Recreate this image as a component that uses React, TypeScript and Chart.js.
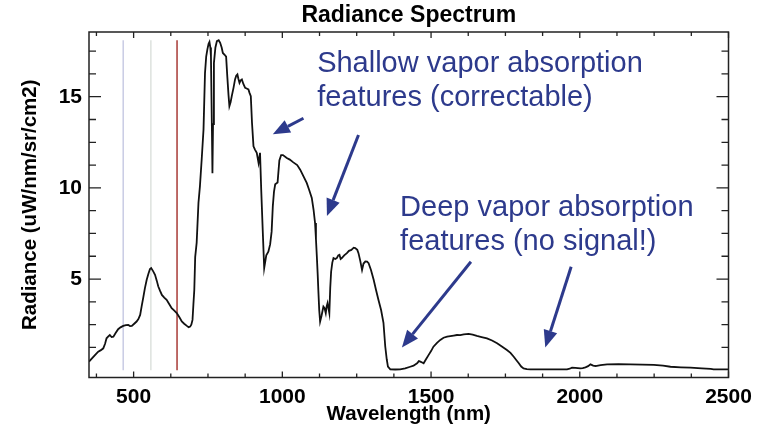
import React, { useEffect, useRef } from "react";
import { Chart, registerables } from "chart.js";

Chart.register(...registerables);

// ---- Data ----
const wavelengths = [
  350, 360, 370, 381, 390, 398, 404, 409, 415, 420, 426, 432, 440, 448, 456, 465, 474, 482, 488, 494,
  502, 510, 516, 522, 527, 533, 538, 544, 550, 555, 559, 565, 572, 578, 583, 589, 595, 603, 611, 620,
  628, 636, 645, 654, 662, 670, 679, 685, 690, 694, 698, 701, 704, 707, 712, 718, 723, 729, 735, 740,
  744, 748, 752, 755, 758, 760, 763, 765, 767, 770, 775, 780, 786, 791, 796, 800, 806, 811, 815, 819,
  822, 826, 830, 836, 841, 845, 849, 852, 856, 860, 864, 869, 875, 880, 886, 890, 894, 898, 903, 908,
  914, 920, 925, 929, 934, 939, 942, 946, 953, 959, 964, 968, 972, 976, 984, 990, 996, 1002, 1015, 1025,
  1037, 1050, 1060, 1072, 1082, 1090, 1099, 1105, 1110, 1113, 1116, 1119, 1121, 1124, 1127, 1132, 1138, 1142, 1146, 1149,
  1152, 1155, 1158, 1161, 1164, 1168, 1172, 1178, 1183, 1188, 1192, 1196, 1200, 1208, 1217, 1224, 1232, 1240, 1245, 1252,
  1256, 1262, 1268, 1273, 1279, 1285, 1290, 1298, 1307, 1315, 1323, 1332, 1340, 1346, 1351, 1355, 1363, 1380, 1396, 1413,
  1430, 1441, 1453, 1459, 1464, 1470, 1475, 1483, 1492, 1500, 1508, 1520, 1531, 1542, 1554, 1565, 1576, 1587, 1598, 1610,
  1626, 1640, 1654, 1670, 1688, 1705, 1722, 1738, 1755, 1767, 1778, 1787, 1795, 1803, 1811, 1822, 1834, 1860, 1890, 1920,
  1957, 1966, 1974, 1985, 2002, 2010, 2019, 2028, 2036, 2045, 2053, 2070, 2092, 2130, 2170, 2210, 2249, 2280, 2305, 2340,
  2372, 2410, 2440, 2450, 2484, 2500,
];
const radiance = [
  0.47, 0.65, 0.83, 1.02, 1.1, 1.2, 1.45, 1.75, 1.85, 1.93, 1.82, 1.84, 2.05, 2.25, 2.35, 2.43, 2.47, 2.48, 2.42, 2.43,
  2.55, 2.67, 2.8, 3.03, 3.5, 4.04, 4.5, 4.96, 5.3, 5.55, 5.6, 5.45, 5.23, 4.9, 4.59, 4.35, 4.13, 3.98, 3.86, 3.62,
  3.4, 3.28, 3.13, 2.9, 2.67, 2.55, 2.43, 2.36, 2.39, 2.5, 2.76, 3.6, 4.4, 6.2, 7.0, 9.17, 10.1, 11.6, 13.2, 16.3,
  17.2, 17.6, 17.9, 18.0, 17.7, 17.2, 13.5, 10.8, 13.5, 16.86, 17.7, 18.05, 18.1, 17.96, 17.7, 17.4, 17.3, 17.2, 16.1, 15.1,
  14.48, 14.7, 15.03, 15.5, 15.95, 16.15, 16.22, 16.0, 15.76, 15.9, 15.95, 15.7, 15.49, 15.45, 15.4, 15.2, 15.03, 13.57, 12.28, 12.1,
  11.92, 11.37, 11.92, 9.9, 7.7, 5.6, 5.9, 6.3, 6.5, 6.9, 7.6, 9.0, 9.8, 10.2, 10.3, 11.5, 11.8, 11.8, 11.64, 11.55,
  11.4, 11.25, 11.0, 10.6, 10.27, 9.9, 9.45, 8.8, 8.07, 7.2, 6.24, 5.2, 4.4, 3.3, 2.67, 3.0, 3.49, 3.4, 3.13, 3.5,
  3.68, 3.4, 3.13, 4.5, 5.4, 5.9, 6.15, 6.1, 6.15, 6.3, 6.33, 6.1, 6.15, 6.3, 6.42, 6.55, 6.6, 6.72, 6.7, 6.6,
  6.42, 6.0, 5.5, 5.85, 5.96, 5.95, 5.87, 5.5, 4.96, 4.4, 3.86, 3.3, 2.6, 1.3, 0.6, 0.2, 0.05, 0.04, 0.05, 0.1,
  0.19, 0.25, 0.38, 0.5, 0.47, 0.42, 0.38, 0.6, 0.84, 1.05, 1.29, 1.5, 1.66, 1.78, 1.84, 1.87, 1.9, 1.93, 1.92, 1.97,
  1.99, 1.95, 1.88, 1.82, 1.75, 1.63, 1.48, 1.3, 1.11, 0.95, 0.74, 0.55, 0.38, 0.2, 0.1, 0.06, 0.05, 0.05, 0.05, 0.05,
  0.05, 0.08, 0.14, 0.13, 0.1, 0.12, 0.16, 0.22, 0.32, 0.25, 0.23, 0.28, 0.32, 0.33, 0.32, 0.31, 0.29, 0.25, 0.19, 0.16,
  0.14, 0.1, 0.07, 0.05, 0.05, 0.05,
];

// RGB band marker lines
const bandWavelengths = [465, 558, 646];
const bandColors = ["#c9cbe4", "#dde2de", "#a83a36"];
const bandTop = 18.1;

// Axis ticks
const xTickLabels = [500, 1000, 1500, 2000, 2500];
const yTickLabels = [5, 10, 15];
const xMinorStep = 125;
const yMinorStep = 1.25;

// Annotations (data coordinates)
const annotationLines = [
  { text: "Shallow vapor absorption", x: 1117, y: 16.38 },
  { text: "features (correctable)", x: 1117, y: 14.5 },
  { text: "Deep vapor absorption", x: 1396, y: 8.46 },
  { text: "features (no signal!)", x: 1396, y: 6.59 },
];
const arrows = [
  { x0: 1071, y0: 13.82, x1: 968, y1: 12.94 },
  { x0: 1256, y0: 12.9, x1: 1150, y1: 8.46 },
  { x0: 1634, y0: 5.95, x1: 1402, y1: 1.25 },
  { x0: 1971, y0: 5.67, x1: 1884, y1: 1.25 },
];

const FAMILY = "'Liberation Sans', Arial, Helvetica, sans-serif";
const BLUE = "#2d3a8c";

const framePlugin = {
  id: "idlFrame",
  afterDraw(chart: any) {
    const { ctx, chartArea } = chart;
    const xs = chart.scales.x;
    const ys = chart.scales.y;
    const { left, right, top, bottom } = chartArea;
    ctx.save();
    ctx.strokeStyle = "#222";
    ctx.lineWidth = 1.5;
    ctx.strokeRect(left, top, right - left, bottom - top);

    ctx.lineWidth = 1.3;
    ctx.beginPath();
    // x ticks (inward, bottom & top)
    for (let v = 375; v <= 2500 + 1e-6; v += xMinorStep) {
      const major = xTickLabels.includes(v);
      const len = major ? 6 : 4;
      const px = xs.getPixelForValue(v);
      ctx.moveTo(px, bottom);
      ctx.lineTo(px, bottom - len);
      ctx.moveTo(px, top);
      ctx.lineTo(px, top + len);
    }
    // y ticks (inward, left & right)
    for (let v = yMinorStep; v <= 18.5; v += yMinorStep) {
      const major = yTickLabels.some((t) => Math.abs(t - v) < 1e-6);
      const len = major ? 12 : 7;
      const py = ys.getPixelForValue(v);
      ctx.moveTo(left, py);
      ctx.lineTo(left + len, py);
      ctx.moveTo(right, py);
      ctx.lineTo(right - len, py);
    }
    ctx.stroke();

    // annotations
    ctx.fillStyle = BLUE;
    ctx.font = `29px ${FAMILY}`;
    ctx.textAlign = "left";
    ctx.textBaseline = "alphabetic";
    annotationLines.forEach((a) => {
      ctx.fillText(a.text, xs.getPixelForValue(a.x), ys.getPixelForValue(a.y));
    });

    ctx.strokeStyle = BLUE;
    ctx.lineWidth = 3;
    arrows.forEach((a) => {
      const x0 = xs.getPixelForValue(a.x0);
      const y0 = ys.getPixelForValue(a.y0);
      const x1 = xs.getPixelForValue(a.x1);
      const y1 = ys.getPixelForValue(a.y1);
      const ang = Math.atan2(y1 - y0, x1 - x0);
      const hl = 17;
      const hw = 7;
      const bx = x1 - hl * Math.cos(ang);
      const by = y1 - hl * Math.sin(ang);
      ctx.beginPath();
      ctx.moveTo(x0, y0);
      ctx.lineTo(bx, by);
      ctx.stroke();
      ctx.beginPath();
      ctx.moveTo(x1, y1);
      ctx.lineTo(bx + hw * Math.sin(ang), by - hw * Math.cos(ang));
      ctx.lineTo(bx - hw * Math.sin(ang), by + hw * Math.cos(ang));
      ctx.closePath();
      ctx.fill();
    });
    ctx.restore();
  },
};

export default function App() {
  const ref = useRef<HTMLCanvasElement | null>(null);

  useEffect(() => {
    document.body.style.margin = "0";
    const canvas = ref.current;
    if (!canvas) return;
    const axisFont = { family: FAMILY, size: 21, weight: "bold" as const, lineHeight: 1.2 };

    const chart = new Chart(canvas, {
      type: "line",
      data: {
        datasets: [
          {
            data: wavelengths.map((w, i) => ({ x: w, y: radiance[i] })),
            borderColor: "#111",
            borderWidth: 1.8,
            pointRadius: 0,
            tension: 0,
            order: 0,
          },
          ...bandWavelengths.map((w, i) => ({
            data: [
              { x: w, y: 0 },
              { x: w, y: bandTop },
            ],
            borderColor: bandColors[i],
            borderWidth: 1.5,
            pointRadius: 0,
            order: 1,
          })),
        ],
      },
      options: {
        responsive: false,
        animation: false,
        devicePixelRatio: 1,
        layout: { padding: { left: 0, right: 40.5, top: 0, bottom: 0 } },
        plugins: {
          legend: { display: false },
          tooltip: { enabled: false },
          title: {
            display: true,
            fullSize: false,
            text: "Radiance Spectrum",
            color: "#000",
            font: { family: FAMILY, size: 23, weight: "bold", lineHeight: 1 },
            padding: { top: 4.5, bottom: 4.5 },
          },
        },
        scales: {
          x: {
            type: "linear",
            min: 350,
            max: 2500,
            grid: { display: false, drawTicks: false },
            border: { display: false },
            afterBuildTicks: (s: any) => {
              s.ticks = xTickLabels.map((v) => ({ value: v }));
            },
            afterFit: (s: any) => {
              s.height = 49.5;
            },
            ticks: {
              color: "#000",
              font: axisFont,
              padding: 7,
              maxRotation: 0,
              autoSkip: false,
              callback: (v: any) => String(v),
            },
            title: {
              display: true,
              text: "Wavelength (nm)",
              color: "#000",
              font: { family: FAMILY, size: 20.5, weight: "bold", lineHeight: 1.2 },
              padding: { top: 0, bottom: 0.5 },
            },
          },
          y: {
            type: "linear",
            min: -0.4,
            max: 18.55,
            grid: { display: false, drawTicks: false },
            border: { display: false },
            afterBuildTicks: (s: any) => {
              s.ticks = yTickLabels.map((v) => ({ value: v }));
            },
            afterFit: (s: any) => {
              s.width = 89;
            },
            ticks: {
              color: "#000",
              font: axisFont,
              padding: 7,
              autoSkip: false,
              callback: (v: any) => String(v),
            },
            title: {
              display: true,
              text: "Radiance (uW/nm/sr/cm2)",
              color: "#000",
              font: { family: FAMILY, size: 20.5, weight: "bold", lineHeight: 1.2 },
              padding: { top: 18, bottom: 0 },
            },
          },
        },
      },
      plugins: [framePlugin],
    } as any);

    return () => chart.destroy();
  }, []);

  return (
    <div style={{ position: "absolute", left: 0, top: 0, width: 769, height: 427, background: "#fff" }}>
      <canvas ref={ref} width={769} height={427} style={{ display: "block", width: 769, height: 427 }} />
    </div>
  );
}
